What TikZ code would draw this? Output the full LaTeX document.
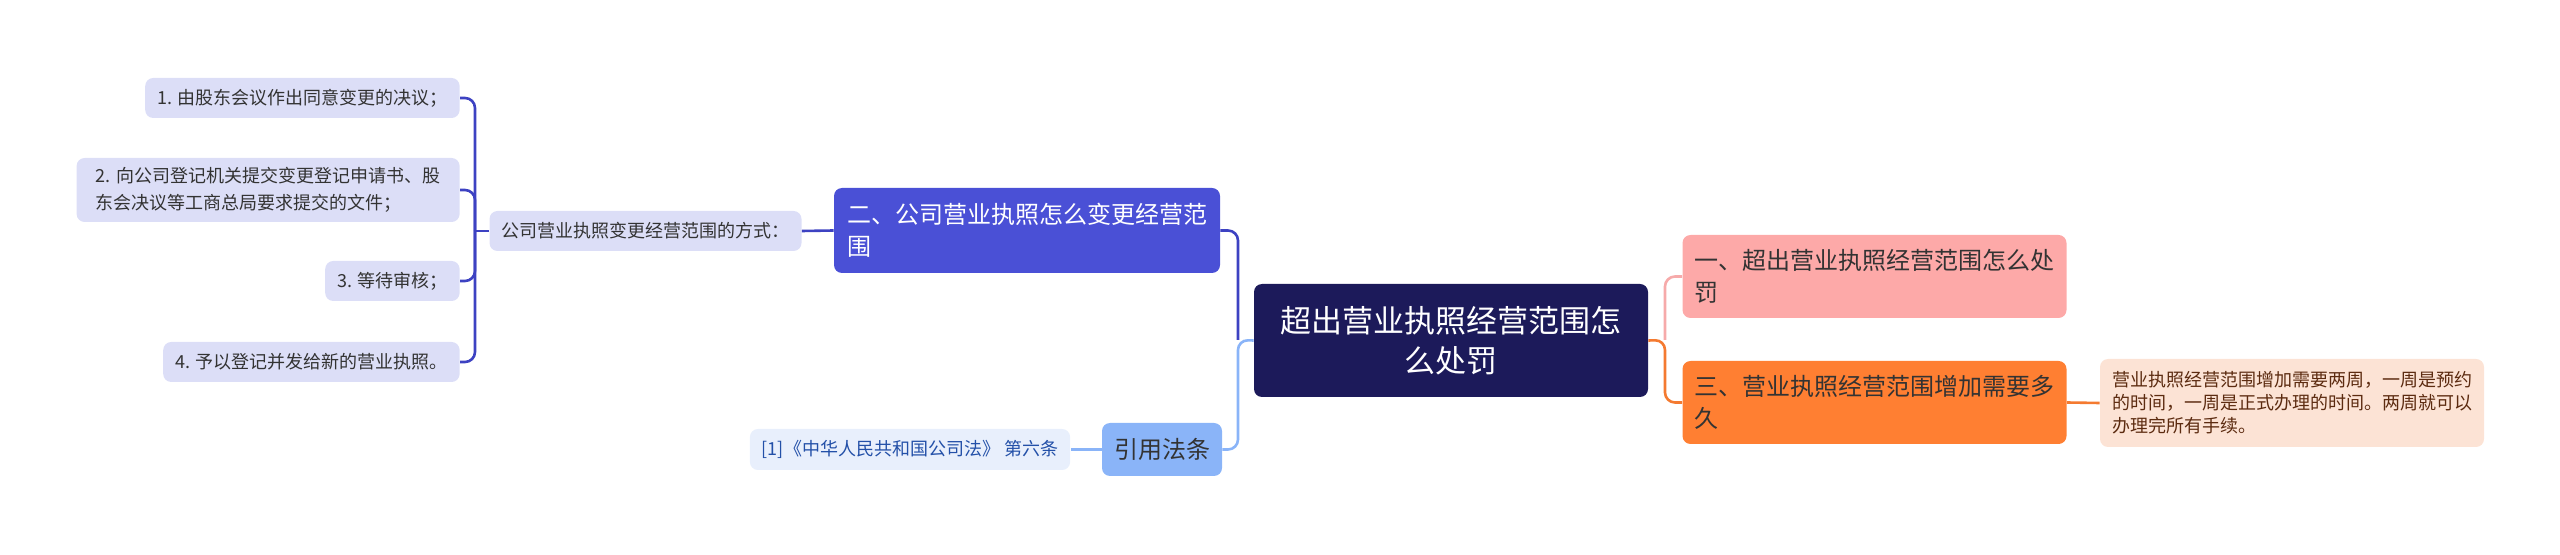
\documentclass[tikz,border=0pt]{standalone}
\usepackage{fontspec}
\setmainfont{Noto Sans CJK SC}
\definecolor{ink}{HTML}{333333}
\definecolor{leaffill}{HTML}{DCDEF7}
\definecolor{blueline}{HTML}{3D42C2}
\definecolor{bluefill}{HTML}{4A50D6}
\definecolor{rootfill}{HTML}{1C1A5A}
\definecolor{lawfill}{HTML}{8AB4F8}
\definecolor{citefill}{HTML}{E8EFFC}
\definecolor{citeink}{HTML}{2350A8}
\definecolor{pinkfill}{HTML}{FDA9A8}
\definecolor{pinkline}{HTML}{F6AAAA}
\definecolor{orangefill}{HTML}{FF7F32}
\definecolor{orangeline}{HTML}{F47A30}
\definecolor{peachfill}{HTML}{FCE3D5}
\definecolor{peachink}{HTML}{5C2B10}
\tikzstyle{box}=[rounded corners=4pt, inner xsep=6pt, inner ysep=0pt, align=left, text=ink]
\tikzstyle{leaf}=[box, fill=leaffill, font=\fontsize{9}{13.5}\selectfont, minimum height=20pt]
\tikzstyle{branch}=[box, font=\fontsize{12}{16}\selectfont, minimum height=41.5pt]
\tikzstyle{link}=[line width=1.3pt, rounded corners=5pt]
\newcommand{\leaf}{\node[leaf]}

\begin{document}
\begin{tikzpicture}[x=0.5pt, y=-0.5pt]
\useasboundingbox (0,0) rectangle (2560,555);
% centre
\node[box, fill=rootfill, text=white, align=center, minimum width=197pt, minimum height=56.5pt,
      font=\fontsize{15.5}{20}\selectfont] (root) at (1451,340.5) {超出营业执照经营范围怎\\么处罚};
% left side
\node[branch, fill=bluefill, text=white, minimum width=193pt, minimum height=42.5pt] (chg) at (1027,230.5)
      {二、公司营业执照怎么变更经营范\\围};
\leaf[minimum width=154.5pt] (how) at (645.5,231) {公司营业执照变更经营范围的方式：};
\leaf[anchor=east, minimum width=156.5pt] (s1) at (460,98) {1. 由股东会议作出同意变更的决议；};
\leaf[anchor=east, minimum width=191.5pt, minimum height=32pt] (s2) at (460,190)
      {2. 向公司登记机关提交变更登记申请书、股\\东会决议等工商总局要求提交的文件；};
\leaf[anchor=east, minimum width=66pt] (s3) at (460,281) {3. 等待审核；};
\leaf[anchor=east, minimum width=146pt] (s4) at (460,362) {4. 予以登记并发给新的营业执照。};
\node[box, fill=lawfill, minimum width=58pt, minimum height=26.5pt, font=\fontsize{12}{15}\selectfont] (law) at (1162,449.5) {引用法条};
\leaf[fill=citefill, text=citeink, minimum width=158.5pt, minimum height=20.5pt] (cite) at (910,449.5)
      {[1]《中华人民共和国公司法》 第六条};
% right side
\node[branch, fill=pinkfill] (pun) at (1874.5,276.5) {一、超出营业执照经营范围怎么处\\罚};
\node[branch, fill=orangefill] (dur) at (1874.5,402.5) {三、营业执照经营范围增加需要多\\久};
\node[box, fill=peachfill, text=peachink, minimum width=190pt, minimum height=44pt,
      font=\fontsize{9}{11.5}\selectfont] (ans) at (2292,403)
      {营业执照经营范围增加需要两周，一周是预约\\的时间，一周是正式办理的时间。两周就可以\\办理完所有手续。};
% connectors
\coordinate (jl) at (1238,340);
\coordinate (js) at (475,231);
\coordinate (jr) at (1665,340);
\draw[link, lawfill] (root.west) -- (jl) |- (law.east);
\draw[link, blueline] (jl) |- (chg.east);
\draw[link, blueline] (chg.west) -- (how.east);
\draw[link, lawfill] (law.west) -- (cite.east);
\draw[link, blueline] (how.west) -- (js);
\foreach \s in {s1,s2,s3,s4}
  \draw[link, blueline] (js) |- (\s.east);
\draw[link, orangeline] (root.east) -- (jr) |- (dur.west);
\draw[link, pinkline] (jr) |- (pun.west);
\draw[link, orangeline] (dur.east) -- (ans.west);
\end{tikzpicture}
\end{document}
